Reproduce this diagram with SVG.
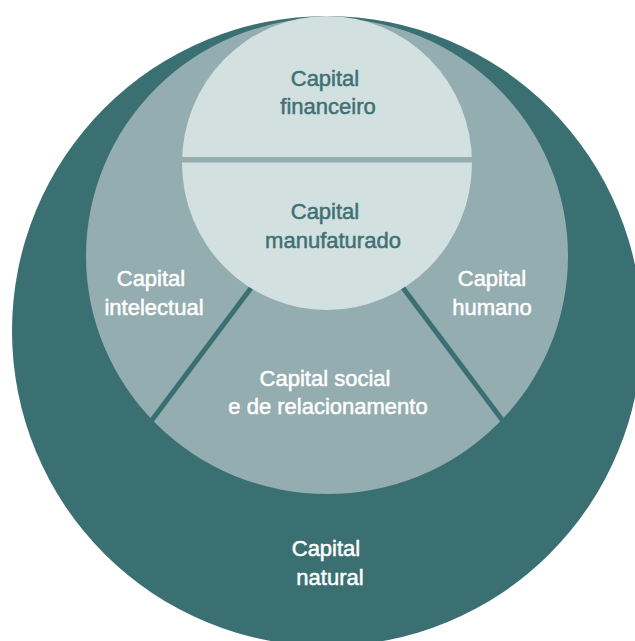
<svg xmlns="http://www.w3.org/2000/svg" width="635" height="641" viewBox="0 0 635 641">
<style>
.t{font-family:"Liberation Sans",Arial,sans-serif;font-size:22px;text-anchor:middle;stroke-width:0.5}
.w{fill:#ffffff;stroke:#ffffff}
.d{fill:#3e7175;stroke:#3e7175}
.div{stroke:#3b7073;stroke-width:5;fill:none}
</style>
<rect width="635" height="641" fill="#ffffff"/>
<g id="capital-natural">
<circle cx="327" cy="331" r="315" fill="#3b7073"/>
<text class="t w" x="326" y="556">Capital</text>
<text class="t w" x="330" y="585">natural</text>
</g>
<g id="anel-medio">
<ellipse cx="327" cy="256" rx="241" ry="238" fill="#94adb0"/>
</g>
<g id="connectors">
<line class="div" x1="290" y1="236" x2="140" y2="436"/>
<line class="div" x1="364" y1="236" x2="515" y2="437"/>
</g>
<g id="capital-intelectual">
<text class="t w" x="151" y="286">Capital</text>
<text class="t w" x="154" y="315">intelectual</text>
</g>
<g id="capital-humano">
<text class="t w" x="492" y="286">Capital</text>
<text class="t w" x="492" y="315">humano</text>
</g>
<g id="capital-social">
<text class="t w" x="325" y="386">Capital social</text>
<text class="t w" x="328" y="414">e de relacionamento</text>
</g>
<g id="nucleo">
<ellipse cx="327" cy="163" rx="145" ry="147" fill="#d3e0e0"/>
<rect x="180" y="157" width="294" height="5.5" fill="#94adb0"/>
</g>
<g id="capital-financeiro">
<text class="t d" x="325" y="86">Capital</text>
<text class="t d" x="328" y="114">financeiro</text>
</g>
<g id="capital-manufaturado">
<text class="t d" x="325" y="219">Capital</text>
<text class="t d" x="333" y="248">manufaturado</text>
</g>
</svg>
